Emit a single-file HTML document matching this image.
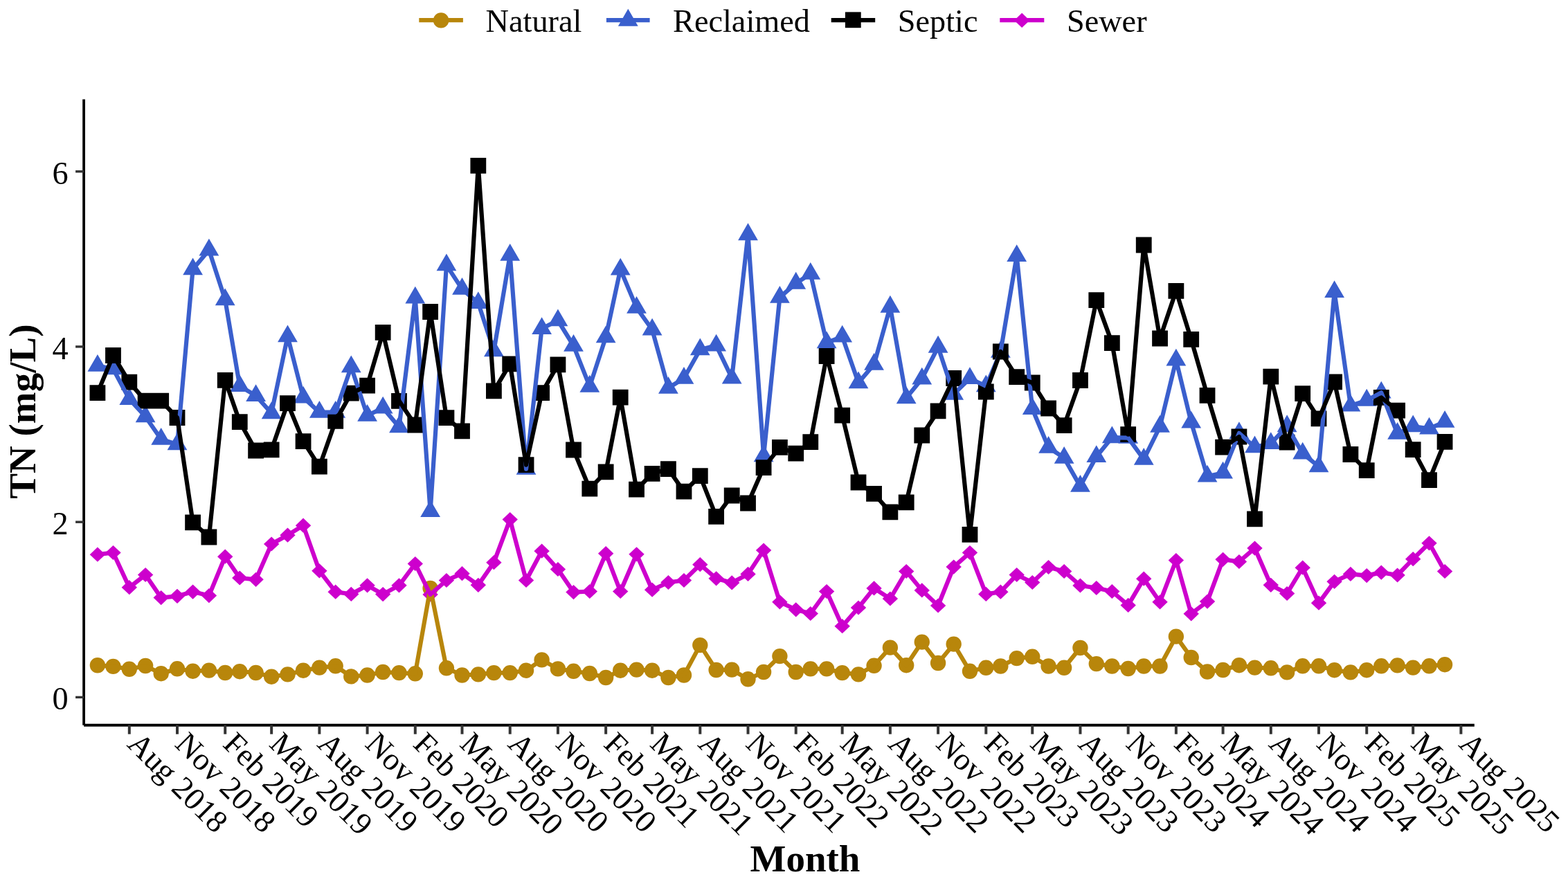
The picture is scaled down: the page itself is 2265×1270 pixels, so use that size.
<!DOCTYPE html><html><head><meta charset="utf-8"><style>html,body{margin:0;padding:0;background:#fff;overflow:hidden}svg{display:block}</style></head><body><svg width="2265" height="1270" viewBox="0 0 2265 1270">
<rect width="2265" height="1270" fill="#fff"/>
<path d="M129.71 961.3a11.2 11.2 0 1 0 22.4 0a11.2 11.2 0 1 0 -22.4 0ZM152.28 962.9a11.2 11.2 0 1 0 22.4 0a11.2 11.2 0 1 0 -22.4 0ZM175.6 966.8a11.2 11.2 0 1 0 22.4 0a11.2 11.2 0 1 0 -22.4 0ZM198.92 962a11.2 11.2 0 1 0 22.4 0a11.2 11.2 0 1 0 -22.4 0ZM221.49 973.2a11.2 11.2 0 1 0 22.4 0a11.2 11.2 0 1 0 -22.4 0ZM244.81 966.3a11.2 11.2 0 1 0 22.4 0a11.2 11.2 0 1 0 -22.4 0ZM267.38 969.7a11.2 11.2 0 1 0 22.4 0a11.2 11.2 0 1 0 -22.4 0ZM290.7 968.6a11.2 11.2 0 1 0 22.4 0a11.2 11.2 0 1 0 -22.4 0ZM314.02 972a11.2 11.2 0 1 0 22.4 0a11.2 11.2 0 1 0 -22.4 0ZM335.08 970.2a11.2 11.2 0 1 0 22.4 0a11.2 11.2 0 1 0 -22.4 0ZM358.4 972a11.2 11.2 0 1 0 22.4 0a11.2 11.2 0 1 0 -22.4 0ZM380.97 977.7a11.2 11.2 0 1 0 22.4 0a11.2 11.2 0 1 0 -22.4 0ZM404.29 974.4a11.2 11.2 0 1 0 22.4 0a11.2 11.2 0 1 0 -22.4 0ZM426.86 968.7a11.2 11.2 0 1 0 22.4 0a11.2 11.2 0 1 0 -22.4 0ZM450.18 964.6a11.2 11.2 0 1 0 22.4 0a11.2 11.2 0 1 0 -22.4 0ZM473.5 962.3a11.2 11.2 0 1 0 22.4 0a11.2 11.2 0 1 0 -22.4 0ZM496.07 977.4a11.2 11.2 0 1 0 22.4 0a11.2 11.2 0 1 0 -22.4 0ZM519.39 975.5a11.2 11.2 0 1 0 22.4 0a11.2 11.2 0 1 0 -22.4 0ZM541.96 971a11.2 11.2 0 1 0 22.4 0a11.2 11.2 0 1 0 -22.4 0ZM565.28 972.1a11.2 11.2 0 1 0 22.4 0a11.2 11.2 0 1 0 -22.4 0ZM588.6 973.3a11.2 11.2 0 1 0 22.4 0a11.2 11.2 0 1 0 -22.4 0ZM610.42 849.9a11.2 11.2 0 1 0 22.4 0a11.2 11.2 0 1 0 -22.4 0ZM633.74 965.3a11.2 11.2 0 1 0 22.4 0a11.2 11.2 0 1 0 -22.4 0ZM656.31 975.5a11.2 11.2 0 1 0 22.4 0a11.2 11.2 0 1 0 -22.4 0ZM679.63 974.4a11.2 11.2 0 1 0 22.4 0a11.2 11.2 0 1 0 -22.4 0ZM702.2 972.1a11.2 11.2 0 1 0 22.4 0a11.2 11.2 0 1 0 -22.4 0ZM725.52 972.1a11.2 11.2 0 1 0 22.4 0a11.2 11.2 0 1 0 -22.4 0ZM748.84 968.7a11.2 11.2 0 1 0 22.4 0a11.2 11.2 0 1 0 -22.4 0ZM771.41 953.4a11.2 11.2 0 1 0 22.4 0a11.2 11.2 0 1 0 -22.4 0ZM794.73 966.4a11.2 11.2 0 1 0 22.4 0a11.2 11.2 0 1 0 -22.4 0ZM817.29 969.8a11.2 11.2 0 1 0 22.4 0a11.2 11.2 0 1 0 -22.4 0ZM840.62 973a11.2 11.2 0 1 0 22.4 0a11.2 11.2 0 1 0 -22.4 0ZM863.94 979a11.2 11.2 0 1 0 22.4 0a11.2 11.2 0 1 0 -22.4 0ZM885 968.7a11.2 11.2 0 1 0 22.4 0a11.2 11.2 0 1 0 -22.4 0ZM908.32 967.6a11.2 11.2 0 1 0 22.4 0a11.2 11.2 0 1 0 -22.4 0ZM930.89 968.7a11.2 11.2 0 1 0 22.4 0a11.2 11.2 0 1 0 -22.4 0ZM954.21 979a11.2 11.2 0 1 0 22.4 0a11.2 11.2 0 1 0 -22.4 0ZM976.78 975.5a11.2 11.2 0 1 0 22.4 0a11.2 11.2 0 1 0 -22.4 0ZM1000.1 932.1a11.2 11.2 0 1 0 22.4 0a11.2 11.2 0 1 0 -22.4 0ZM1023.42 968a11.2 11.2 0 1 0 22.4 0a11.2 11.2 0 1 0 -22.4 0ZM1045.99 967.6a11.2 11.2 0 1 0 22.4 0a11.2 11.2 0 1 0 -22.4 0ZM1069.31 981.3a11.2 11.2 0 1 0 22.4 0a11.2 11.2 0 1 0 -22.4 0ZM1091.88 971a11.2 11.2 0 1 0 22.4 0a11.2 11.2 0 1 0 -22.4 0ZM1115.2 948.1a11.2 11.2 0 1 0 22.4 0a11.2 11.2 0 1 0 -22.4 0ZM1138.52 971a11.2 11.2 0 1 0 22.4 0a11.2 11.2 0 1 0 -22.4 0ZM1159.58 966.4a11.2 11.2 0 1 0 22.4 0a11.2 11.2 0 1 0 -22.4 0ZM1182.9 966.4a11.2 11.2 0 1 0 22.4 0a11.2 11.2 0 1 0 -22.4 0ZM1205.47 972.1a11.2 11.2 0 1 0 22.4 0a11.2 11.2 0 1 0 -22.4 0ZM1228.79 974.4a11.2 11.2 0 1 0 22.4 0a11.2 11.2 0 1 0 -22.4 0ZM1251.36 961.8a11.2 11.2 0 1 0 22.4 0a11.2 11.2 0 1 0 -22.4 0ZM1274.68 935.6a11.2 11.2 0 1 0 22.4 0a11.2 11.2 0 1 0 -22.4 0ZM1298 961.2a11.2 11.2 0 1 0 22.4 0a11.2 11.2 0 1 0 -22.4 0ZM1320.57 927.6a11.2 11.2 0 1 0 22.4 0a11.2 11.2 0 1 0 -22.4 0ZM1343.89 958a11.2 11.2 0 1 0 22.4 0a11.2 11.2 0 1 0 -22.4 0ZM1366.46 930.6a11.2 11.2 0 1 0 22.4 0a11.2 11.2 0 1 0 -22.4 0ZM1389.78 969.8a11.2 11.2 0 1 0 22.4 0a11.2 11.2 0 1 0 -22.4 0ZM1413.1 964.8a11.2 11.2 0 1 0 22.4 0a11.2 11.2 0 1 0 -22.4 0ZM1434.16 962.5a11.2 11.2 0 1 0 22.4 0a11.2 11.2 0 1 0 -22.4 0ZM1457.49 951.1a11.2 11.2 0 1 0 22.4 0a11.2 11.2 0 1 0 -22.4 0ZM1480.05 948.8a11.2 11.2 0 1 0 22.4 0a11.2 11.2 0 1 0 -22.4 0ZM1503.37 962.5a11.2 11.2 0 1 0 22.4 0a11.2 11.2 0 1 0 -22.4 0ZM1525.94 964.8a11.2 11.2 0 1 0 22.4 0a11.2 11.2 0 1 0 -22.4 0ZM1549.26 936a11.2 11.2 0 1 0 22.4 0a11.2 11.2 0 1 0 -22.4 0ZM1572.58 959.1a11.2 11.2 0 1 0 22.4 0a11.2 11.2 0 1 0 -22.4 0ZM1595.15 962.5a11.2 11.2 0 1 0 22.4 0a11.2 11.2 0 1 0 -22.4 0ZM1618.47 966a11.2 11.2 0 1 0 22.4 0a11.2 11.2 0 1 0 -22.4 0ZM1641.04 962.5a11.2 11.2 0 1 0 22.4 0a11.2 11.2 0 1 0 -22.4 0ZM1664.36 962.5a11.2 11.2 0 1 0 22.4 0a11.2 11.2 0 1 0 -22.4 0ZM1687.68 919.6a11.2 11.2 0 1 0 22.4 0a11.2 11.2 0 1 0 -22.4 0ZM1709.5 950a11.2 11.2 0 1 0 22.4 0a11.2 11.2 0 1 0 -22.4 0ZM1732.82 970.5a11.2 11.2 0 1 0 22.4 0a11.2 11.2 0 1 0 -22.4 0ZM1755.39 968a11.2 11.2 0 1 0 22.4 0a11.2 11.2 0 1 0 -22.4 0ZM1778.71 961.2a11.2 11.2 0 1 0 22.4 0a11.2 11.2 0 1 0 -22.4 0ZM1801.28 964.6a11.2 11.2 0 1 0 22.4 0a11.2 11.2 0 1 0 -22.4 0ZM1824.6 965.3a11.2 11.2 0 1 0 22.4 0a11.2 11.2 0 1 0 -22.4 0ZM1847.92 971.4a11.2 11.2 0 1 0 22.4 0a11.2 11.2 0 1 0 -22.4 0ZM1870.49 962.3a11.2 11.2 0 1 0 22.4 0a11.2 11.2 0 1 0 -22.4 0ZM1893.81 962.3a11.2 11.2 0 1 0 22.4 0a11.2 11.2 0 1 0 -22.4 0ZM1916.38 968.2a11.2 11.2 0 1 0 22.4 0a11.2 11.2 0 1 0 -22.4 0ZM1939.7 971.4a11.2 11.2 0 1 0 22.4 0a11.2 11.2 0 1 0 -22.4 0ZM1963.02 968.2a11.2 11.2 0 1 0 22.4 0a11.2 11.2 0 1 0 -22.4 0ZM1984.08 962.3a11.2 11.2 0 1 0 22.4 0a11.2 11.2 0 1 0 -22.4 0ZM2007.4 961.4a11.2 11.2 0 1 0 22.4 0a11.2 11.2 0 1 0 -22.4 0ZM2029.97 964.6a11.2 11.2 0 1 0 22.4 0a11.2 11.2 0 1 0 -22.4 0ZM2053.29 962.3a11.2 11.2 0 1 0 22.4 0a11.2 11.2 0 1 0 -22.4 0ZM2075.86 960.2a11.2 11.2 0 1 0 22.4 0a11.2 11.2 0 1 0 -22.4 0Z" fill="#B8860B"/>
<path d="M140.91 512.07L155.31 536.87L126.51 536.87ZM163.48 516.47L177.88 541.27L149.08 541.27ZM186.8 560.17L201.2 584.97L172.4 584.97ZM210.12 585.37L224.52 610.17L195.72 610.17ZM232.69 618.07L247.09 642.87L218.29 642.87ZM256.01 625.57L270.41 650.37L241.61 650.37ZM278.58 372.57L292.98 397.37L264.18 397.37ZM301.9 344.77L316.3 369.57L287.5 369.57ZM325.22 416.57L339.62 441.37L310.82 441.37ZM346.28 541.27L360.68 566.07L331.88 566.07ZM369.6 555.17L384 579.97L355.2 579.97ZM392.17 580.37L406.57 605.17L377.77 605.17ZM415.49 469.47L429.89 494.27L401.09 494.27ZM438.06 557.67L452.46 582.47L423.66 582.47ZM461.38 579.07L475.78 603.87L446.98 603.87ZM484.7 579.07L499.1 603.87L470.3 603.87ZM507.27 513.57L521.67 538.37L492.87 538.37ZM530.59 584.07L544.99 608.87L516.19 608.87ZM553.16 572.77L567.56 597.57L538.76 597.57ZM576.48 600.47L590.88 625.27L562.08 625.27ZM599.8 413.67L614.2 438.47L585.4 438.47ZM621.62 722.27L636.02 747.07L607.22 747.07ZM644.94 366.57L659.34 391.37L630.54 391.37ZM667.51 401.07L681.91 425.87L653.11 425.87ZM690.83 421.27L705.23 446.07L676.43 446.07ZM713.4 490.47L727.8 515.27L699 515.27ZM736.72 351.97L751.12 376.77L722.32 376.77ZM760.04 661.07L774.44 685.87L745.64 685.87ZM782.61 458.27L797.01 483.07L768.21 483.07ZM805.93 446.47L820.33 471.27L791.53 471.27ZM828.49 482.97L842.89 507.77L814.09 507.77ZM851.82 541.87L866.22 566.67L837.42 566.67ZM875.14 470.47L889.54 495.27L860.74 495.27ZM896.2 372.67L910.6 397.47L881.8 397.47ZM919.52 428.07L933.92 452.87L905.12 452.87ZM942.09 459.77L956.49 484.57L927.69 484.57ZM965.41 543.97L979.81 568.77L951.01 568.77ZM987.98 530.07L1002.38 554.87L973.58 554.87ZM1011.3 488.57L1025.7 513.37L996.9 513.37ZM1034.62 482.77L1049.02 507.57L1020.22 507.57ZM1057.19 529.67L1071.59 554.47L1042.79 554.47ZM1080.51 322.37L1094.91 347.17L1066.11 347.17ZM1103.08 642.47L1117.48 667.27L1088.68 667.27ZM1126.4 413.07L1140.8 437.87L1112 437.87ZM1149.72 392.87L1164.12 417.67L1135.32 417.67ZM1170.78 379.07L1185.18 403.87L1156.38 403.87ZM1194.1 478.57L1208.5 503.37L1179.7 503.37ZM1216.67 469.77L1231.07 494.57L1202.27 494.57ZM1239.99 536.47L1254.39 561.27L1225.59 561.27ZM1262.56 510.07L1276.96 534.87L1248.16 534.87ZM1285.88 426.87L1300.28 451.67L1271.48 451.67ZM1309.2 558.37L1323.6 583.17L1294.8 583.17ZM1331.77 530.67L1346.17 555.47L1317.37 555.47ZM1355.09 484.87L1369.49 509.67L1340.69 509.67ZM1377.66 552.87L1392.06 577.67L1363.26 577.67ZM1400.98 530.17L1415.38 554.97L1386.58 554.97ZM1424.3 541.47L1438.7 566.27L1409.9 566.27ZM1445.36 492.07L1459.76 516.87L1430.96 516.87ZM1468.69 353.17L1483.09 377.97L1454.29 377.97ZM1491.25 574.27L1505.65 599.07L1476.85 599.07ZM1514.57 629.97L1528.97 654.77L1500.17 654.77ZM1537.14 645.07L1551.54 669.87L1522.74 669.87ZM1560.46 686.07L1574.86 710.87L1546.06 710.87ZM1583.78 643.27L1598.18 668.07L1569.38 668.07ZM1606.35 615.57L1620.75 640.37L1591.95 640.37ZM1629.67 616.07L1644.07 640.87L1615.27 640.87ZM1652.24 647.07L1666.64 671.87L1637.84 671.87ZM1675.56 599.87L1689.96 624.67L1661.16 624.67ZM1698.88 503.77L1713.28 528.57L1684.48 528.57ZM1720.7 593.67L1735.1 618.47L1706.3 618.47ZM1744.02 671.77L1758.42 696.57L1729.62 696.57ZM1766.59 666.67L1780.99 691.47L1752.19 691.47ZM1789.91 609.27L1804.31 634.07L1775.51 634.07ZM1812.48 629.47L1826.88 654.27L1798.08 654.27ZM1835.8 624.27L1850.2 649.07L1821.4 649.07ZM1859.12 599.37L1873.52 624.17L1844.72 624.17ZM1881.69 638.67L1896.09 663.47L1867.29 663.47ZM1905.01 657.57L1919.41 682.37L1890.61 682.37ZM1927.58 405.27L1941.98 430.07L1913.18 430.07ZM1950.9 569.67L1965.3 594.47L1936.5 594.47ZM1974.22 561.87L1988.62 586.67L1959.82 586.67ZM1995.28 550.67L2009.68 575.47L1980.88 575.47ZM2018.6 609.97L2033 634.77L2004.2 634.77ZM2041.17 599.57L2055.57 624.37L2026.77 624.37ZM2064.49 602.67L2078.89 627.47L2050.09 627.47ZM2087.06 593.07L2101.46 617.87L2072.66 617.87Z" fill="#3A5FCD"/>
<path d="M129.51 556.2h22.8v22.8h-22.8ZM152.08 502.1h22.8v22.8h-22.8ZM175.4 540.8h22.8v22.8h-22.8ZM198.72 567.7h22.8v22.8h-22.8ZM221.29 567.7h22.8v22.8h-22.8ZM244.61 592.1h22.8v22.8h-22.8ZM267.18 743.4h22.8v22.8h-22.8ZM290.5 764.6h22.8v22.8h-22.8ZM313.82 537.9h22.8v22.8h-22.8ZM334.88 598.2h22.8v22.8h-22.8ZM358.2 639.6h22.8v22.8h-22.8ZM380.77 638.4h22.8v22.8h-22.8ZM404.09 571.3h22.8v22.8h-22.8ZM426.66 626.2h22.8v22.8h-22.8ZM449.98 662.8h22.8v22.8h-22.8ZM473.3 597h22.8v22.8h-22.8ZM495.87 556.7h22.8v22.8h-22.8ZM519.19 545.7h22.8v22.8h-22.8ZM541.76 469h22.8v22.8h-22.8ZM565.08 567.9h22.8v22.8h-22.8ZM588.4 602.6h22.8v22.8h-22.8ZM610.22 439.1h22.8v22.8h-22.8ZM633.54 592.3h22.8v22.8h-22.8ZM656.11 611.4h22.8v22.8h-22.8ZM679.43 228h22.8v22.8h-22.8ZM702 553.5h22.8v22.8h-22.8ZM725.32 514.4h22.8v22.8h-22.8ZM748.64 660.3h22.8v22.8h-22.8ZM771.21 556.3h22.8v22.8h-22.8ZM794.53 515.5h22.8v22.8h-22.8ZM817.09 638.6h22.8v22.8h-22.8ZM840.42 694.8h22.8v22.8h-22.8ZM863.74 670.4h22.8v22.8h-22.8ZM884.8 562.8h22.8v22.8h-22.8ZM908.12 695.8h22.8v22.8h-22.8ZM930.69 672.9h22.8v22.8h-22.8ZM954.01 666.3h22.8v22.8h-22.8ZM976.58 698.8h22.8v22.8h-22.8ZM999.9 676.3h22.8v22.8h-22.8ZM1023.22 735h22.8v22.8h-22.8ZM1045.79 704.6h22.8v22.8h-22.8ZM1069.11 715.6h22.8v22.8h-22.8ZM1091.68 664.2h22.8v22.8h-22.8ZM1115 635h22.8v22.8h-22.8ZM1138.32 643.8h22.8v22.8h-22.8ZM1159.38 627.2h22.8v22.8h-22.8ZM1182.7 503.1h22.8v22.8h-22.8ZM1205.27 588.8h22.8v22.8h-22.8ZM1228.59 685.6h22.8v22.8h-22.8ZM1251.16 702h22.8v22.8h-22.8ZM1274.48 728.5h22.8v22.8h-22.8ZM1297.8 714.4h22.8v22.8h-22.8ZM1320.37 617.6h22.8v22.8h-22.8ZM1343.69 582.4h22.8v22.8h-22.8ZM1366.26 535.1h22.8v22.8h-22.8ZM1389.58 761h22.8v22.8h-22.8ZM1412.9 554.6h22.8v22.8h-22.8ZM1433.96 496.6h22.8v22.8h-22.8ZM1457.29 533.3h22.8v22.8h-22.8ZM1479.85 541.6h22.8v22.8h-22.8ZM1503.17 578.6h22.8v22.8h-22.8ZM1525.74 603.3h22.8v22.8h-22.8ZM1549.06 538.1h22.8v22.8h-22.8ZM1572.38 422.2h22.8v22.8h-22.8ZM1594.95 484.2h22.8v22.8h-22.8ZM1618.27 616.3h22.8v22.8h-22.8ZM1640.84 342.6h22.8v22.8h-22.8ZM1664.16 477.6h22.8v22.8h-22.8ZM1687.48 408.9h22.8v22.8h-22.8ZM1709.3 478.9h22.8v22.8h-22.8ZM1732.62 560h22.8v22.8h-22.8ZM1755.19 634.7h22.8v22.8h-22.8ZM1778.51 619.6h22.8v22.8h-22.8ZM1801.08 738.5h22.8v22.8h-22.8ZM1824.4 532.8h22.8v22.8h-22.8ZM1847.72 627.8h22.8v22.8h-22.8ZM1870.29 557.2h22.8v22.8h-22.8ZM1893.61 593.5h22.8v22.8h-22.8ZM1916.18 540.4h22.8v22.8h-22.8ZM1939.5 645.1h22.8v22.8h-22.8ZM1962.82 668.2h22.8v22.8h-22.8ZM1983.88 563h22.8v22.8h-22.8ZM2007.2 581.7h22.8v22.8h-22.8ZM2029.77 638.3h22.8v22.8h-22.8ZM2053.09 682.2h22.8v22.8h-22.8ZM2075.66 626.9h22.8v22.8h-22.8Z" fill="#000000"/>
<path d="M140.91 790.6L152.11 801.2L140.91 811.8L129.71 801.2ZM163.48 787.9L174.68 798.5L163.48 809.1L152.28 798.5ZM186.8 838.1L198 848.7L186.8 859.3L175.6 848.7ZM210.12 819.9L221.32 830.5L210.12 841.1L198.92 830.5ZM232.69 853L243.89 863.6L232.69 874.2L221.49 863.6ZM256.01 850.7L267.21 861.3L256.01 871.9L244.81 861.3ZM278.58 844.5L289.78 855.1L278.58 865.7L267.38 855.1ZM301.9 850L313.1 860.6L301.9 871.2L290.7 860.6ZM325.22 793.6L336.42 804.2L325.22 814.8L314.02 804.2ZM346.28 824.4L357.48 835L346.28 845.6L335.08 835ZM369.6 826.7L380.8 837.3L369.6 847.9L358.4 837.3ZM392.17 775.4L403.37 786L392.17 796.6L380.97 786ZM415.49 762.6L426.69 773.2L415.49 783.8L404.29 773.2ZM438.06 748.6L449.26 759.2L438.06 769.8L426.86 759.2ZM461.38 814.2L472.58 824.8L461.38 835.4L450.18 824.8ZM484.7 844.6L495.9 855.2L484.7 865.8L473.5 855.2ZM507.27 847.8L518.47 858.4L507.27 869L496.07 858.4ZM530.59 835.2L541.79 845.8L530.59 856.4L519.39 845.8ZM553.16 848L564.36 858.6L553.16 869.2L541.96 858.6ZM576.48 835.2L587.68 845.8L576.48 856.4L565.28 845.8ZM599.8 803.9L611 814.5L599.8 825.1L588.6 814.5ZM621.62 848.4L632.82 859L621.62 869.6L610.42 859ZM644.94 827.9L656.14 838.5L644.94 849.1L633.74 838.5ZM667.51 818.1L678.71 828.7L667.51 839.3L656.31 828.7ZM690.83 834.7L702.03 845.3L690.83 855.9L679.63 845.3ZM713.4 802.1L724.6 812.7L713.4 823.3L702.2 812.7ZM736.72 740L747.92 750.6L736.72 761.2L725.52 750.6ZM760.04 827.9L771.24 838.5L760.04 849.1L748.84 838.5ZM782.61 785.6L793.81 796.2L782.61 806.8L771.41 796.2ZM805.93 811.9L817.13 822.5L805.93 833.1L794.73 822.5ZM828.49 845L839.69 855.6L828.49 866.2L817.29 855.6ZM851.82 843.9L863.02 854.5L851.82 865.1L840.62 854.5ZM875.14 789.1L886.34 799.7L875.14 810.3L863.94 799.7ZM896.2 843.9L907.4 854.5L896.2 865.1L885 854.5ZM919.52 790.2L930.72 800.8L919.52 811.4L908.32 800.8ZM942.09 841.6L953.29 852.2L942.09 862.8L930.89 852.2ZM965.41 830.9L976.61 841.5L965.41 852.1L954.21 841.5ZM987.98 827.9L999.18 838.5L987.98 849.1L976.78 838.5ZM1011.3 805.1L1022.5 815.7L1011.3 826.3L1000.1 815.7ZM1034.62 825.2L1045.82 835.8L1034.62 846.4L1023.42 835.8ZM1057.19 831.3L1068.39 841.9L1057.19 852.5L1045.99 841.9ZM1080.51 818.8L1091.71 829.4L1080.51 840L1069.31 829.4ZM1103.08 784.5L1114.28 795.1L1103.08 805.7L1091.88 795.1ZM1126.4 859.2L1137.6 869.8L1126.4 880.4L1115.2 869.8ZM1149.72 870.2L1160.92 880.8L1149.72 891.4L1138.52 880.8ZM1170.78 875.9L1181.98 886.5L1170.78 897.1L1159.58 886.5ZM1194.1 843.9L1205.3 854.5L1194.1 865.1L1182.9 854.5ZM1216.67 894.1L1227.87 904.7L1216.67 915.3L1205.47 904.7ZM1239.99 867.4L1251.19 878L1239.99 888.6L1228.79 878ZM1262.56 839.3L1273.76 849.9L1262.56 860.5L1251.36 849.9ZM1285.88 854.4L1297.08 865L1285.88 875.6L1274.68 865ZM1309.2 814.9L1320.4 825.5L1309.2 836.1L1298 825.5ZM1331.77 842.3L1342.97 852.9L1331.77 863.5L1320.57 852.9ZM1355.09 864.4L1366.29 875L1355.09 885.6L1343.89 875ZM1377.66 808.5L1388.86 819.1L1377.66 829.7L1366.46 819.1ZM1400.98 787.9L1412.18 798.5L1400.98 809.1L1389.78 798.5ZM1424.3 847.8L1435.5 858.4L1424.3 869L1413.1 858.4ZM1445.36 844.6L1456.56 855.2L1445.36 865.8L1434.16 855.2ZM1468.69 819.9L1479.89 830.5L1468.69 841.1L1457.49 830.5ZM1491.25 830.9L1502.45 841.5L1491.25 852.1L1480.05 841.5ZM1514.57 808.9L1525.77 819.5L1514.57 830.1L1503.37 819.5ZM1537.14 814.9L1548.34 825.5L1537.14 836.1L1525.94 825.5ZM1560.46 835.4L1571.66 846L1560.46 856.6L1549.26 846ZM1583.78 838.9L1594.98 849.5L1583.78 860.1L1572.58 849.5ZM1606.35 843.9L1617.55 854.5L1606.35 865.1L1595.15 854.5ZM1629.67 863.8L1640.87 874.4L1629.67 885L1618.47 874.4ZM1652.24 825.6L1663.44 836.2L1652.24 846.8L1641.04 836.2ZM1675.56 859.2L1686.76 869.8L1675.56 880.4L1664.36 869.8ZM1698.88 798.9L1710.08 809.5L1698.88 820.1L1687.68 809.5ZM1720.7 876.2L1731.9 886.8L1720.7 897.4L1709.5 886.8ZM1744.02 858.5L1755.22 869.1L1744.02 879.7L1732.82 869.1ZM1766.59 797.7L1777.79 808.3L1766.59 818.9L1755.39 808.3ZM1789.91 800.9L1801.11 811.5L1789.91 822.1L1778.71 811.5ZM1812.48 781.5L1823.68 792.1L1812.48 802.7L1801.28 792.1ZM1835.8 834.7L1847 845.3L1835.8 855.9L1824.6 845.3ZM1859.12 846.9L1870.32 857.5L1859.12 868.1L1847.92 857.5ZM1881.69 809.6L1892.89 820.2L1881.69 830.8L1870.49 820.2ZM1905.01 860.6L1916.21 871.2L1905.01 881.8L1893.81 871.2ZM1927.58 829.7L1938.78 840.3L1927.58 850.9L1916.38 840.3ZM1950.9 818.8L1962.1 829.4L1950.9 840L1939.7 829.4ZM1974.22 821L1985.42 831.6L1974.22 842.2L1963.02 831.6ZM1995.28 816.5L2006.48 827.1L1995.28 837.7L1984.08 827.1ZM2018.6 820.4L2029.8 831L2018.6 841.6L2007.4 831ZM2041.17 797.1L2052.37 807.7L2041.17 818.3L2029.97 807.7ZM2064.49 774.2L2075.69 784.8L2064.49 795.4L2053.29 784.8ZM2087.06 814.9L2098.26 825.5L2087.06 836.1L2075.86 825.5Z" fill="#CD00CD"/>
<polyline points="140.91,961.3 163.48,962.9 186.8,966.8 210.12,962 232.69,973.2 256.01,966.3 278.58,969.7 301.9,968.6 325.22,972 346.28,970.2 369.6,972 392.17,977.7 415.49,974.4 438.06,968.7 461.38,964.6 484.7,962.3 507.27,977.4 530.59,975.5 553.16,971 576.48,972.1 599.8,973.3 621.62,849.9 644.94,965.3 667.51,975.5 690.83,974.4 713.4,972.1 736.72,972.1 760.04,968.7 782.61,953.4 805.93,966.4 828.49,969.8 851.82,973 875.14,979 896.2,968.7 919.52,967.6 942.09,968.7 965.41,979 987.98,975.5 1011.3,932.1 1034.62,968 1057.19,967.6 1080.51,981.3 1103.08,971 1126.4,948.1 1149.72,971 1170.78,966.4 1194.1,966.4 1216.67,972.1 1239.99,974.4 1262.56,961.8 1285.88,935.6 1309.2,961.2 1331.77,927.6 1355.09,958 1377.66,930.6 1400.98,969.8 1424.3,964.8 1445.36,962.5 1468.69,951.1 1491.25,948.8 1514.57,962.5 1537.14,964.8 1560.46,936 1583.78,959.1 1606.35,962.5 1629.67,966 1652.24,962.5 1675.56,962.5 1698.88,919.6 1720.7,950 1744.02,970.5 1766.59,968 1789.91,961.2 1812.48,964.6 1835.8,965.3 1859.12,971.4 1881.69,962.3 1905.01,962.3 1927.58,968.2 1950.9,971.4 1974.22,968.2 1995.28,962.3 2018.6,961.4 2041.17,964.6 2064.49,962.3 2087.06,960.2" fill="none" stroke="#B8860B" stroke-width="6.2" stroke-linejoin="round" stroke-linecap="butt"/>
<polyline points="140.91,528.6 163.48,533 186.8,576.7 210.12,601.9 232.69,634.6 256.01,642.1 278.58,389.1 301.9,361.3 325.22,433.1 346.28,557.8 369.6,571.7 392.17,596.9 415.49,486 438.06,574.2 461.38,595.6 484.7,595.6 507.27,530.1 530.59,600.6 553.16,589.3 576.48,617 599.8,430.2 621.62,738.8 644.94,383.1 667.51,417.6 690.83,437.8 713.4,507 736.72,368.5 760.04,677.6 782.61,474.8 805.93,463 828.49,499.5 851.82,558.4 875.14,487 896.2,389.2 919.52,444.6 942.09,476.3 965.41,560.5 987.98,546.6 1011.3,505.1 1034.62,499.3 1057.19,546.2 1080.51,338.9 1103.08,659 1126.4,429.6 1149.72,409.4 1170.78,395.6 1194.1,495.1 1216.67,486.3 1239.99,553 1262.56,526.6 1285.88,443.4 1309.2,574.9 1331.77,547.2 1355.09,501.4 1377.66,569.4 1400.98,546.7 1424.3,558 1445.36,508.6 1468.69,369.7 1491.25,590.8 1514.57,646.5 1537.14,661.6 1560.46,702.6 1583.78,659.8 1606.35,632.1 1629.67,632.6 1652.24,663.6 1675.56,616.4 1698.88,520.3 1720.7,610.2 1744.02,688.3 1766.59,683.2 1789.91,625.8 1812.48,646 1835.8,640.8 1859.12,615.9 1881.69,655.2 1905.01,674.1 1927.58,421.8 1950.9,586.2 1974.22,578.4 1995.28,567.2 2018.6,626.5 2041.17,616.1 2064.49,619.2 2087.06,609.6" fill="none" stroke="#3A5FCD" stroke-width="6.2" stroke-linejoin="round" stroke-linecap="butt"/>
<polyline points="140.91,567.6 163.48,513.5 186.8,552.2 210.12,579.1 232.69,579.1 256.01,603.5 278.58,754.8 301.9,776 325.22,549.3 346.28,609.6 369.6,651 392.17,649.8 415.49,582.7 438.06,637.6 461.38,674.2 484.7,608.4 507.27,568.1 530.59,557.1 553.16,480.4 576.48,579.3 599.8,614 621.62,450.5 644.94,603.7 667.51,622.8 690.83,239.4 713.4,564.9 736.72,525.8 760.04,671.7 782.61,567.7 805.93,526.9 828.49,650 851.82,706.2 875.14,681.8 896.2,574.2 919.52,707.2 942.09,684.3 965.41,677.7 987.98,710.2 1011.3,687.7 1034.62,746.4 1057.19,716 1080.51,727 1103.08,675.6 1126.4,646.4 1149.72,655.2 1170.78,638.6 1194.1,514.5 1216.67,600.2 1239.99,697 1262.56,713.4 1285.88,739.9 1309.2,725.8 1331.77,629 1355.09,593.8 1377.66,546.5 1400.98,772.4 1424.3,566 1445.36,508 1468.69,544.7 1491.25,553 1514.57,590 1537.14,614.7 1560.46,549.5 1583.78,433.6 1606.35,495.6 1629.67,627.7 1652.24,354 1675.56,489 1698.88,420.3 1720.7,490.3 1744.02,571.4 1766.59,646.1 1789.91,631 1812.48,749.9 1835.8,544.2 1859.12,639.2 1881.69,568.6 1905.01,604.9 1927.58,551.8 1950.9,656.5 1974.22,679.6 1995.28,574.4 2018.6,593.1 2041.17,649.7 2064.49,693.6 2087.06,638.3" fill="none" stroke="#000000" stroke-width="6.2" stroke-linejoin="round" stroke-linecap="butt"/>
<polyline points="140.91,801.2 163.48,798.5 186.8,848.7 210.12,830.5 232.69,863.6 256.01,861.3 278.58,855.1 301.9,860.6 325.22,804.2 346.28,835 369.6,837.3 392.17,786 415.49,773.2 438.06,759.2 461.38,824.8 484.7,855.2 507.27,858.4 530.59,845.8 553.16,858.6 576.48,845.8 599.8,814.5 621.62,859 644.94,838.5 667.51,828.7 690.83,845.3 713.4,812.7 736.72,750.6 760.04,838.5 782.61,796.2 805.93,822.5 828.49,855.6 851.82,854.5 875.14,799.7 896.2,854.5 919.52,800.8 942.09,852.2 965.41,841.5 987.98,838.5 1011.3,815.7 1034.62,835.8 1057.19,841.9 1080.51,829.4 1103.08,795.1 1126.4,869.8 1149.72,880.8 1170.78,886.5 1194.1,854.5 1216.67,904.7 1239.99,878 1262.56,849.9 1285.88,865 1309.2,825.5 1331.77,852.9 1355.09,875 1377.66,819.1 1400.98,798.5 1424.3,858.4 1445.36,855.2 1468.69,830.5 1491.25,841.5 1514.57,819.5 1537.14,825.5 1560.46,846 1583.78,849.5 1606.35,854.5 1629.67,874.4 1652.24,836.2 1675.56,869.8 1698.88,809.5 1720.7,886.8 1744.02,869.1 1766.59,808.3 1789.91,811.5 1812.48,792.1 1835.8,845.3 1859.12,857.5 1881.69,820.2 1905.01,871.2 1927.58,840.3 1950.9,829.4 1974.22,831.6 1995.28,827.1 2018.6,831 2041.17,807.7 2064.49,784.8 2087.06,825.5" fill="none" stroke="#CD00CD" stroke-width="6.2" stroke-linejoin="round" stroke-linecap="butt"/>
<line x1="121.1" y1="143.6" x2="121.1" y2="1047.7" stroke="#000" stroke-width="3.8"/>
<line x1="121.1" y1="1047.7" x2="2129.8" y2="1047.7" stroke="#000" stroke-width="4.1"/>
<line x1="109.1" y1="1007.4" x2="121" y2="1007.4" stroke="#333333" stroke-width="3.4"/>
<text x="98.7" y="1025.3" text-anchor="end" font-family="Liberation Serif, serif" font-size="46.3" fill="#000">0</text>
<line x1="109.1" y1="754.2" x2="121" y2="754.2" stroke="#333333" stroke-width="3.4"/>
<text x="98.7" y="772.1" text-anchor="end" font-family="Liberation Serif, serif" font-size="46.3" fill="#000">2</text>
<line x1="109.1" y1="500.9" x2="121" y2="500.9" stroke="#333333" stroke-width="3.4"/>
<text x="98.7" y="518.8" text-anchor="end" font-family="Liberation Serif, serif" font-size="46.3" fill="#000">4</text>
<line x1="109.1" y1="247.8" x2="121" y2="247.8" stroke="#333333" stroke-width="3.4"/>
<text x="98.7" y="265.7" text-anchor="end" font-family="Liberation Serif, serif" font-size="46.3" fill="#000">6</text>
<line x1="186.8" y1="1047.6" x2="186.8" y2="1060.7" stroke="#333333" stroke-width="4"/>
<text transform="translate(181.9,1077) rotate(45)" font-family="Liberation Serif, serif" font-size="45.8" fill="#000">Aug 2018</text>
<line x1="256.01" y1="1047.6" x2="256.01" y2="1060.7" stroke="#333333" stroke-width="4"/>
<text transform="translate(251.11,1077) rotate(45)" font-family="Liberation Serif, serif" font-size="45.8" fill="#000">Nov 2018</text>
<line x1="325.22" y1="1047.6" x2="325.22" y2="1060.7" stroke="#333333" stroke-width="4"/>
<text transform="translate(320.32,1077) rotate(45)" font-family="Liberation Serif, serif" font-size="45.8" fill="#000">Feb 2019</text>
<line x1="392.17" y1="1047.6" x2="392.17" y2="1060.7" stroke="#333333" stroke-width="4"/>
<text transform="translate(387.27,1077) rotate(45)" font-family="Liberation Serif, serif" font-size="45.8" fill="#000">May 2019</text>
<line x1="461.38" y1="1047.6" x2="461.38" y2="1060.7" stroke="#333333" stroke-width="4"/>
<text transform="translate(456.48,1077) rotate(45)" font-family="Liberation Serif, serif" font-size="45.8" fill="#000">Aug 2019</text>
<line x1="530.59" y1="1047.6" x2="530.59" y2="1060.7" stroke="#333333" stroke-width="4"/>
<text transform="translate(525.69,1077) rotate(45)" font-family="Liberation Serif, serif" font-size="45.8" fill="#000">Nov 2019</text>
<line x1="599.8" y1="1047.6" x2="599.8" y2="1060.7" stroke="#333333" stroke-width="4"/>
<text transform="translate(594.9,1077) rotate(45)" font-family="Liberation Serif, serif" font-size="45.8" fill="#000">Feb 2020</text>
<line x1="667.51" y1="1047.6" x2="667.51" y2="1060.7" stroke="#333333" stroke-width="4"/>
<text transform="translate(662.61,1077) rotate(45)" font-family="Liberation Serif, serif" font-size="45.8" fill="#000">May 2020</text>
<line x1="736.72" y1="1047.6" x2="736.72" y2="1060.7" stroke="#333333" stroke-width="4"/>
<text transform="translate(731.82,1077) rotate(45)" font-family="Liberation Serif, serif" font-size="45.8" fill="#000">Aug 2020</text>
<line x1="805.93" y1="1047.6" x2="805.93" y2="1060.7" stroke="#333333" stroke-width="4"/>
<text transform="translate(801.03,1077) rotate(45)" font-family="Liberation Serif, serif" font-size="45.8" fill="#000">Nov 2020</text>
<line x1="875.14" y1="1047.6" x2="875.14" y2="1060.7" stroke="#333333" stroke-width="4"/>
<text transform="translate(870.24,1077) rotate(45)" font-family="Liberation Serif, serif" font-size="45.8" fill="#000">Feb 2021</text>
<line x1="942.09" y1="1047.6" x2="942.09" y2="1060.7" stroke="#333333" stroke-width="4"/>
<text transform="translate(937.19,1077) rotate(45)" font-family="Liberation Serif, serif" font-size="45.8" fill="#000">May 2021</text>
<line x1="1011.3" y1="1047.6" x2="1011.3" y2="1060.7" stroke="#333333" stroke-width="4"/>
<text transform="translate(1006.4,1077) rotate(45)" font-family="Liberation Serif, serif" font-size="45.8" fill="#000">Aug 2021</text>
<line x1="1080.51" y1="1047.6" x2="1080.51" y2="1060.7" stroke="#333333" stroke-width="4"/>
<text transform="translate(1075.61,1077) rotate(45)" font-family="Liberation Serif, serif" font-size="45.8" fill="#000">Nov 2021</text>
<line x1="1149.72" y1="1047.6" x2="1149.72" y2="1060.7" stroke="#333333" stroke-width="4"/>
<text transform="translate(1144.82,1077) rotate(45)" font-family="Liberation Serif, serif" font-size="45.8" fill="#000">Feb 2022</text>
<line x1="1216.67" y1="1047.6" x2="1216.67" y2="1060.7" stroke="#333333" stroke-width="4"/>
<text transform="translate(1211.77,1077) rotate(45)" font-family="Liberation Serif, serif" font-size="45.8" fill="#000">May 2022</text>
<line x1="1285.88" y1="1047.6" x2="1285.88" y2="1060.7" stroke="#333333" stroke-width="4"/>
<text transform="translate(1280.98,1077) rotate(45)" font-family="Liberation Serif, serif" font-size="45.8" fill="#000">Aug 2022</text>
<line x1="1355.09" y1="1047.6" x2="1355.09" y2="1060.7" stroke="#333333" stroke-width="4"/>
<text transform="translate(1350.19,1077) rotate(45)" font-family="Liberation Serif, serif" font-size="45.8" fill="#000">Nov 2022</text>
<line x1="1424.3" y1="1047.6" x2="1424.3" y2="1060.7" stroke="#333333" stroke-width="4"/>
<text transform="translate(1419.4,1077) rotate(45)" font-family="Liberation Serif, serif" font-size="45.8" fill="#000">Feb 2023</text>
<line x1="1491.25" y1="1047.6" x2="1491.25" y2="1060.7" stroke="#333333" stroke-width="4"/>
<text transform="translate(1486.35,1077) rotate(45)" font-family="Liberation Serif, serif" font-size="45.8" fill="#000">May 2023</text>
<line x1="1560.46" y1="1047.6" x2="1560.46" y2="1060.7" stroke="#333333" stroke-width="4"/>
<text transform="translate(1555.56,1077) rotate(45)" font-family="Liberation Serif, serif" font-size="45.8" fill="#000">Aug 2023</text>
<line x1="1629.67" y1="1047.6" x2="1629.67" y2="1060.7" stroke="#333333" stroke-width="4"/>
<text transform="translate(1624.77,1077) rotate(45)" font-family="Liberation Serif, serif" font-size="45.8" fill="#000">Nov 2023</text>
<line x1="1698.88" y1="1047.6" x2="1698.88" y2="1060.7" stroke="#333333" stroke-width="4"/>
<text transform="translate(1693.98,1077) rotate(45)" font-family="Liberation Serif, serif" font-size="45.8" fill="#000">Feb 2024</text>
<line x1="1766.59" y1="1047.6" x2="1766.59" y2="1060.7" stroke="#333333" stroke-width="4"/>
<text transform="translate(1761.69,1077) rotate(45)" font-family="Liberation Serif, serif" font-size="45.8" fill="#000">May 2024</text>
<line x1="1835.8" y1="1047.6" x2="1835.8" y2="1060.7" stroke="#333333" stroke-width="4"/>
<text transform="translate(1830.9,1077) rotate(45)" font-family="Liberation Serif, serif" font-size="45.8" fill="#000">Aug 2024</text>
<line x1="1905.01" y1="1047.6" x2="1905.01" y2="1060.7" stroke="#333333" stroke-width="4"/>
<text transform="translate(1900.11,1077) rotate(45)" font-family="Liberation Serif, serif" font-size="45.8" fill="#000">Nov 2024</text>
<line x1="1974.22" y1="1047.6" x2="1974.22" y2="1060.7" stroke="#333333" stroke-width="4"/>
<text transform="translate(1969.32,1077) rotate(45)" font-family="Liberation Serif, serif" font-size="45.8" fill="#000">Feb 2025</text>
<line x1="2041.17" y1="1047.6" x2="2041.17" y2="1060.7" stroke="#333333" stroke-width="4"/>
<text transform="translate(2036.27,1077) rotate(45)" font-family="Liberation Serif, serif" font-size="45.8" fill="#000">May 2025</text>
<line x1="2110.38" y1="1047.6" x2="2110.38" y2="1060.7" stroke="#333333" stroke-width="4"/>
<text transform="translate(2105.48,1077) rotate(45)" font-family="Liberation Serif, serif" font-size="45.8" fill="#000">Aug 2025</text>
<text x="1083.5" y="1258.7" font-family="Liberation Serif, serif" font-weight="bold" font-size="55" fill="#000">Month</text>
<text transform="translate(51.4,720.6) rotate(-90)" font-family="Liberation Serif, serif" font-weight="bold" font-size="55" fill="#000">TN (mg/L)</text>
<circle cx="637.1" cy="29.4" r="11.2" fill="#B8860B"/>
<line x1="605.3" y1="29.2" x2="668.9" y2="29.2" stroke="#B8860B" stroke-width="6.2"/>
<polygon points="907.3,12.87 921.7,37.67 892.9,37.67" fill="#3A5FCD"/>
<line x1="875.9" y1="29.2" x2="938.6" y2="29.2" stroke="#3A5FCD" stroke-width="6.2"/>
<rect x="1220.9" y="17.4" width="22.8" height="22.8" fill="#000000"/>
<line x1="1200.7" y1="29.2" x2="1264.2" y2="29.2" stroke="#000000" stroke-width="6.2"/>
<polygon points="1476.2,18.8 1487.4,29.4 1476.2,40 1465,29.4" fill="#CD00CD"/>
<line x1="1444.3" y1="29.2" x2="1508.3" y2="29.2" stroke="#CD00CD" stroke-width="6.2"/>
<text x="701.6" y="45.6" font-family="Liberation Serif, serif" font-size="46.3" fill="#000">Natural</text>
<text x="972" y="45.6" font-family="Liberation Serif, serif" font-size="46.3" fill="#000">Reclaimed</text>
<text x="1296.8" y="45.6" font-family="Liberation Serif, serif" font-size="46.3" fill="#000">Septic</text>
<text x="1540.9" y="45.6" font-family="Liberation Serif, serif" font-size="46.3" fill="#000">Sewer</text>
</svg></body></html>
